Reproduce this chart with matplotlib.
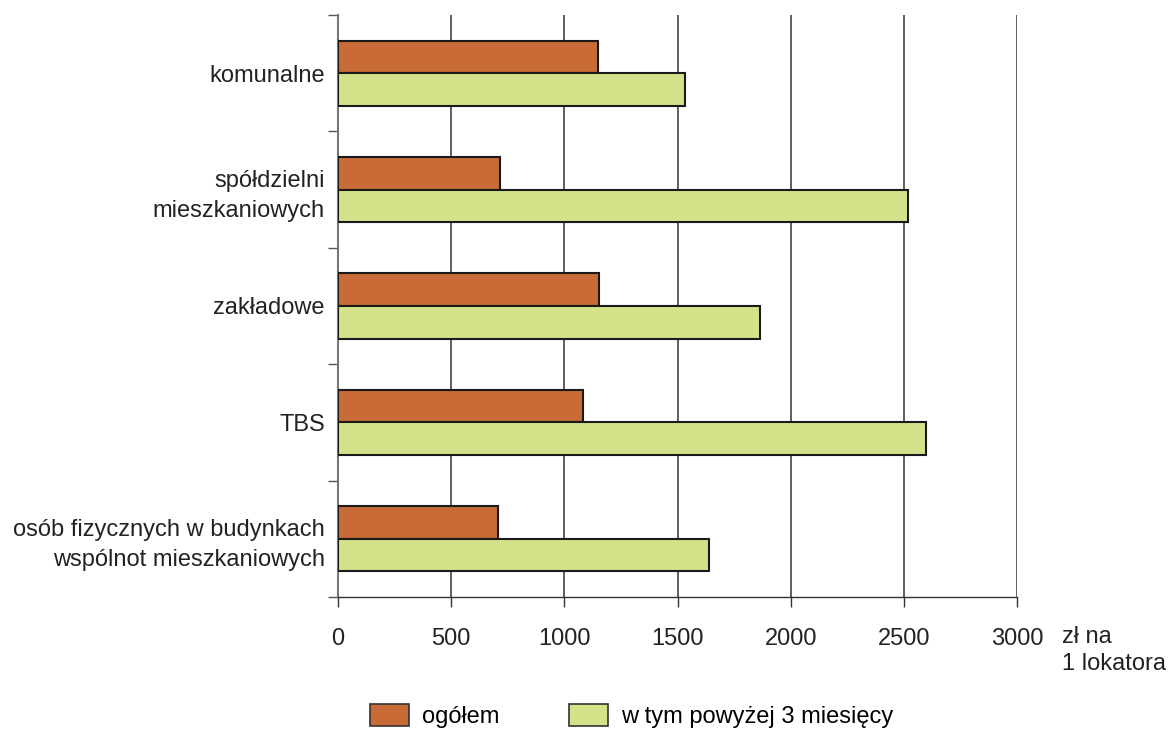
import matplotlib
matplotlib.use("Agg")
import matplotlib.pyplot as plt
from matplotlib.patches import Patch
import numpy as np

plt.rcParams['font.family'] = ['Liberation Sans', 'DejaVu Sans']

categories = ["komunalne", "spółdzielni\nmieszkaniowych", "zakładowe", "TBS",
              "osób fizycznych w budynkach\nwspólnot mieszkaniowych"]
ogolem = [1147, 715, 1155, 1084, 708]
powyzej3 = [1535, 2517, 1866, 2597, 1640]
xticks = [0, 500, 1000, 1500, 2000, 2500, 3000]
series_labels = ["ogółem", "w tym powyżej 3 miesięcy"]
unit_label = "zł na\n1 lokatora"

c_orange = "#C96B37"
c_green = "#D4E28A"
FS = 17

W, H = 1168, 729
fig = plt.figure(figsize=(W / 100, H / 100), dpi=100)
ax = fig.add_axes([338 / W, (H - 597) / H, (1017 - 338) / W, (597 - 15) / H])

y = np.arange(len(categories))
bh = 0.28
ax.barh(y - bh / 2, ogolem, height=bh, color=c_orange, edgecolor="#1a1a1a", linewidth=1.5, zorder=3)
ax.barh(y + bh / 2, powyzej3, height=bh, color=c_green, edgecolor="#1a1a1a", linewidth=1.5, zorder=3)

ax.set_xlim(0, 3000)
ax.set_ylim(len(categories) - 0.5, -0.5)

ax.set_xticks(xticks)
ax.set_xticklabels([str(v) for v in xticks], fontsize=FS, color="#222222")
ax.tick_params(axis='x', length=7, width=1, color="#333333", pad=15)

ax.set_yticks(y)
ax.set_yticklabels(categories, fontsize=FS, color="#222222", linespacing=1.45)
ax.tick_params(axis='y', which='major', length=0, pad=9.5)
ax.set_yticks(np.arange(-0.5, len(categories), 1.0), minor=True)
ax.tick_params(axis='y', which='minor', length=7, width=1, color="#555555")

for v in xticks[1:]:
    ax.axvline(v, color="#444444", linewidth=1.2, zorder=1)

for s in ["top", "right"]:
    ax.spines[s].set_visible(False)
ax.spines["left"].set_color("#777777")
ax.spines["left"].set_linewidth(1.5)
ax.spines["bottom"].set_color("#333333")
ax.spines["bottom"].set_linewidth(1)

fig.text(1062 / W, (H - 626) / H, unit_label, fontsize=FS, color="#222222",
         ha="left", va="top", linespacing=1.3, transform=fig.transFigure)

handles = [Patch(facecolor=c_orange, edgecolor="#333333", linewidth=1.2),
           Patch(facecolor=c_green, edgecolor="#333333", linewidth=1.2)]
fig.legend(handles, series_labels, loc="center left",
           bbox_to_anchor=(370 / W, (H - 716) / H), ncol=2, frameon=False,
           fontsize=FS, handlelength=1.65, handleheight=1.06, handletextpad=0.55,
           columnspacing=2.97, borderpad=0, borderaxespad=0)

fig.savefig("out.png", dpi=100)
